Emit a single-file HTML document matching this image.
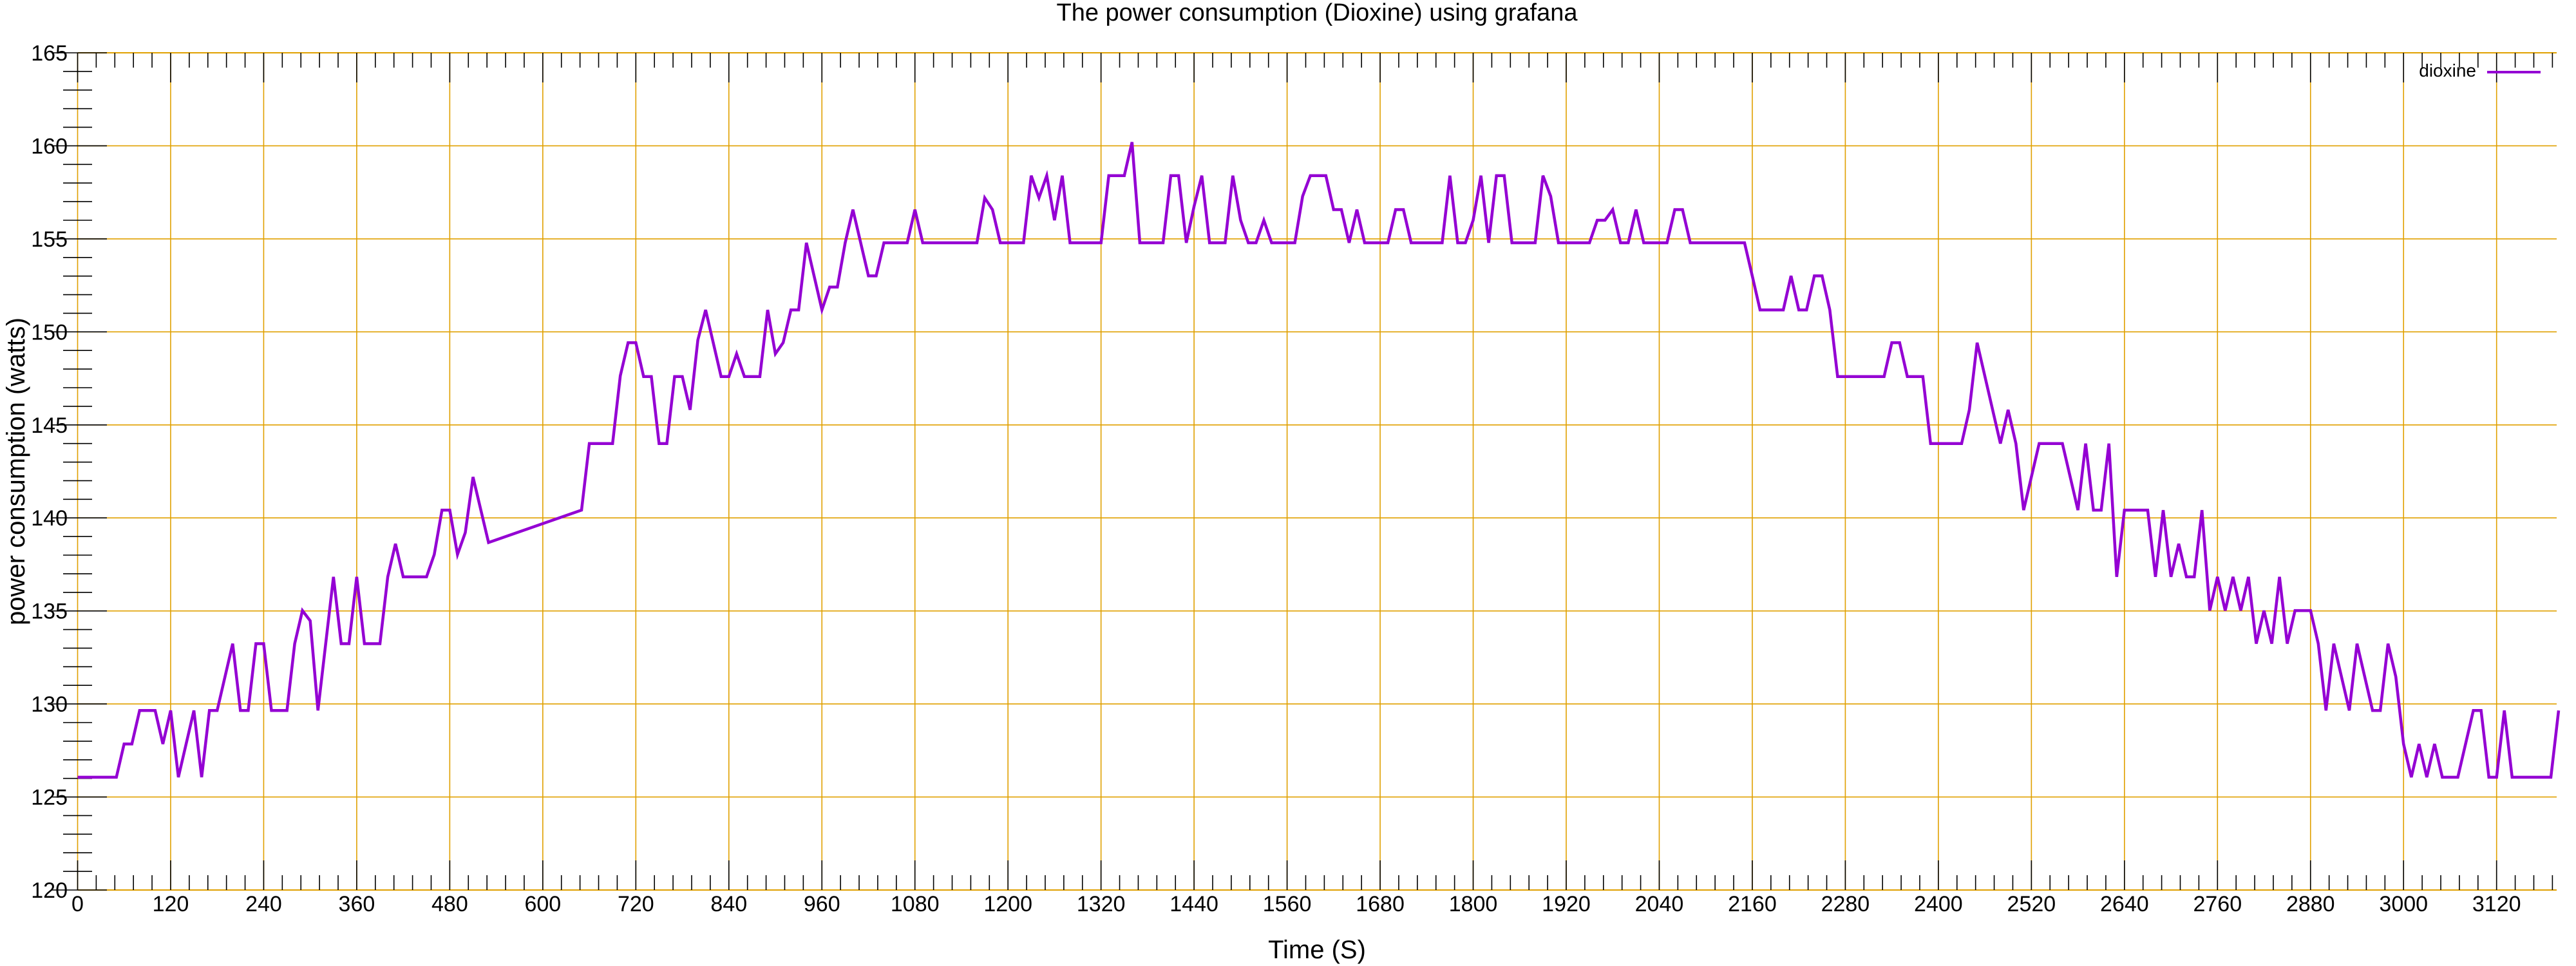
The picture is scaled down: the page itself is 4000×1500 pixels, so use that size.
<!DOCTYPE html>
<html><head><meta charset="utf-8"><style>
html,body{margin:0;padding:0;background:#fff;}
svg{display:block;font-family:"Liberation Sans",sans-serif;}
</style></head><body>
<svg id="chart" width="4000" height="1500" viewBox="0 0 4000 1500" xmlns="http://www.w3.org/2000/svg">
<text x="2045" y="32" font-size="38" text-anchor="middle">The power consumption (Dioxine) using grafana</text>
<text x="2045" y="1488" font-size="40" text-anchor="middle">Time (S)</text>
<text x="0" y="0" font-size="40" text-anchor="middle" transform="translate(38,732) rotate(-90)">power consumption (watts)</text>
<g id="grid"></g>
<g id="ticks"></g>
<g id="labels"></g>
<polyline id="series" fill="none" stroke="#9400d3" stroke-width="4.5" stroke-linejoin="miter"/>
<g>
<text x="3845" y="119" font-size="28" text-anchor="end">dioxine</text>
<line x1="3862" y1="112" x2="3945" y2="112" stroke="#9400d3" stroke-width="4"/>
</g>
</svg>
<script>
const times=[0,50,60,70,80,100,110,120,130,150,160,170,180,200,210,220,230,240,250,270,280,290,300,310,330,340,350,360,370,390,400,410,420,450,460,470,480,490,500,510,530,650,660,690,700,710,720,730,740,750,760,770,780,790,800,810,830,840,850,860,880,890,900,910,920,930,940,960,970,980,990,1000,1020,1030,1040,1070,1080,1090,1160,1170,1180,1190,1220,1230,1240,1250,1260,1270,1280,1320,1330,1350,1360,1370,1400,1410,1420,1430,1440,1450,1460,1480,1490,1500,1510,1520,1530,1540,1570,1580,1590,1610,1620,1630,1640,1650,1660,1690,1700,1710,1720,1760,1770,1780,1790,1800,1810,1820,1830,1840,1850,1880,1890,1900,1910,1950,1960,1970,1980,1990,2000,2010,2020,2050,2060,2070,2080,2150,2160,2170,2200,2210,2220,2230,2240,2250,2260,2270,2330,2340,2350,2360,2380,2390,2430,2440,2450,2480,2490,2500,2510,2530,2560,2580,2590,2600,2610,2620,2630,2640,2670,2680,2690,2700,2710,2720,2730,2740,2750,2760,2770,2780,2790,2800,2810,2820,2830,2840,2850,2860,2880,2890,2900,2910,2930,2940,2960,2970,2980,2990,3000,3010,3020,3030,3040,3050,3070,3090,3100,3110,3120,3130,3140,3190,3200];
const watts=[126.06,126.06,127.85,127.85,129.65,129.65,127.85,129.65,126.06,129.65,126.06,129.65,129.65,133.24,129.65,129.65,133.24,133.24,129.65,129.65,133.24,135.02,134.47,129.65,136.83,133.24,133.24,136.83,133.24,133.24,136.83,138.61,136.83,136.83,138.03,140.42,140.42,138.03,139.21,142.2,138.68,140.42,144.0,144.0,147.64,149.42,149.42,147.6,147.6,144.0,144.0,147.6,147.6,145.81,149.56,151.18,147.6,147.6,148.82,147.6,147.6,151.18,148.82,149.42,151.18,151.18,154.79,151.18,152.41,152.41,154.79,156.57,153.01,153.01,154.79,154.79,156.57,154.79,154.79,157.2,156.57,154.79,154.79,158.4,157.2,158.4,156.0,158.4,154.79,154.79,158.4,158.4,160.2,154.79,154.79,158.4,158.4,154.79,156.74,158.4,154.79,154.79,158.4,156.0,154.79,154.79,156.0,154.79,154.79,157.29,158.4,158.4,156.57,156.57,154.79,156.57,154.79,154.79,156.57,156.57,154.79,154.79,158.4,154.79,154.79,156.0,158.4,154.79,158.4,158.4,154.79,154.79,158.4,157.29,154.79,154.79,156.0,156.0,156.57,154.79,154.79,156.57,154.79,154.79,156.57,156.57,154.79,154.79,153.01,151.18,151.18,153.01,151.18,151.18,153.01,153.01,151.18,147.6,147.6,149.42,149.42,147.6,147.6,144.0,144.0,145.81,149.42,144.0,145.81,144.0,140.42,144.0,144.0,140.42,144.0,140.42,140.42,144.0,136.83,140.42,140.42,136.83,140.42,136.83,138.61,136.83,136.83,140.42,135.02,136.83,135.02,136.83,135.02,136.83,133.24,135.02,133.24,136.83,133.24,135.02,135.02,133.24,129.65,133.24,129.65,133.24,129.65,129.65,133.24,131.46,127.85,126.06,127.85,126.06,127.85,126.06,126.06,129.65,129.65,126.06,126.06,129.65,126.06,126.06,129.65];
const xTickLabels=["0","120","240","360","480","600","720","840","960","1080","1200","1320","1440","1560","1680","1800","1920","2040","2160","2280","2400","2520","2640","2760","2880","3000","3120"];
const yTickLabels=["120","125","130","135","140","145","150","155","160","165"];

const NS="http://www.w3.org/2000/svg";
const X0=120.5,X1=3970,XMAX=3197.5,Y0=1382,Y1=82,YMIN=120,YMAX=165;
function xs(t){return X0+(t/XMAX)*(X1-X0);}
function ys(v){return Y0-(v-YMIN)/(YMAX-YMIN)*(Y0-Y1);}
function mk(tag,attrs,parent){const e=document.createElementNS(NS,tag);for(const k in attrs)e.setAttribute(k,attrs[k]);parent.appendChild(e);return e;}
const grid=document.getElementById('grid'),ticks=document.getElementById('ticks'),labels=document.getElementById('labels');
const GC="#e0a000";
// horizontal grid
yTickLabels.forEach(l=>{const y=ys(+l);
 const g=mk('line',{x1:X0,y1:y,x2:X1,y2:y,stroke:GC,'stroke-width':1.6},grid);
 
 
 const t=mk('line',{x1:80,y1:y,x2:166,y2:y,stroke:'#000','stroke-width':1.6},ticks);
 
 
 const tx=mk('text',{x:105,y:y+12,'font-size':34,'text-anchor':'end'},labels);
 tx.textContent=l;
 
 
});
for(let v=YMIN+1;v<YMAX;v++){if(v%5===0)continue;const y=ys(v);
 const t=mk('line',{x1:98,y1:y,x2:143,y2:y,stroke:'#000','stroke-width':1.6},ticks);
 
 }
// vertical grid
xTickLabels.forEach(l=>{const x=xs(+l);
 const g=mk('line',{x1:x,y1:Y1,x2:x,y2:Y0,stroke:GC,'stroke-width':1.6},grid);
 
 
 const t1=mk('line',{x1:x,y1:Y0,x2:x,y2:Y0-46,stroke:'#000','stroke-width':1.6},ticks);
 
 
 const t2=mk('line',{x1:x,y1:Y1,x2:x,y2:Y1+46,stroke:'#000','stroke-width':1.6},ticks);
 
 
 const tx=mk('text',{x:x,y:Y0+33,'font-size':34,'text-anchor':'middle'},labels);
 tx.textContent=l;
 
 
});
for(let t=24;t<XMAX;t+=24){if(t%120===0)continue;const x=xs(t);
 const a=mk('line',{x1:x,y1:Y0,x2:x,y2:Y0-23,stroke:'#000','stroke-width':1.6},ticks);
 
 
 const b=mk('line',{x1:x,y1:Y1,x2:x,y2:Y1+23,stroke:'#000','stroke-width':1.6},ticks);
 
 }
// axis borders
const bt=mk('line',{x1:X0,y1:Y1,x2:X1,y2:Y1,stroke:GC,'stroke-width':2},grid);


const bb=mk('line',{x1:X0,y1:Y0,x2:X1,y2:Y0,stroke:GC,'stroke-width':2},grid);


// series
document.getElementById('series').setAttribute('points',times.map((t,i)=>xs(t).toFixed(1)+','+ys(watts[i]).toFixed(1)).join(' '));
</script>
</body></html>
